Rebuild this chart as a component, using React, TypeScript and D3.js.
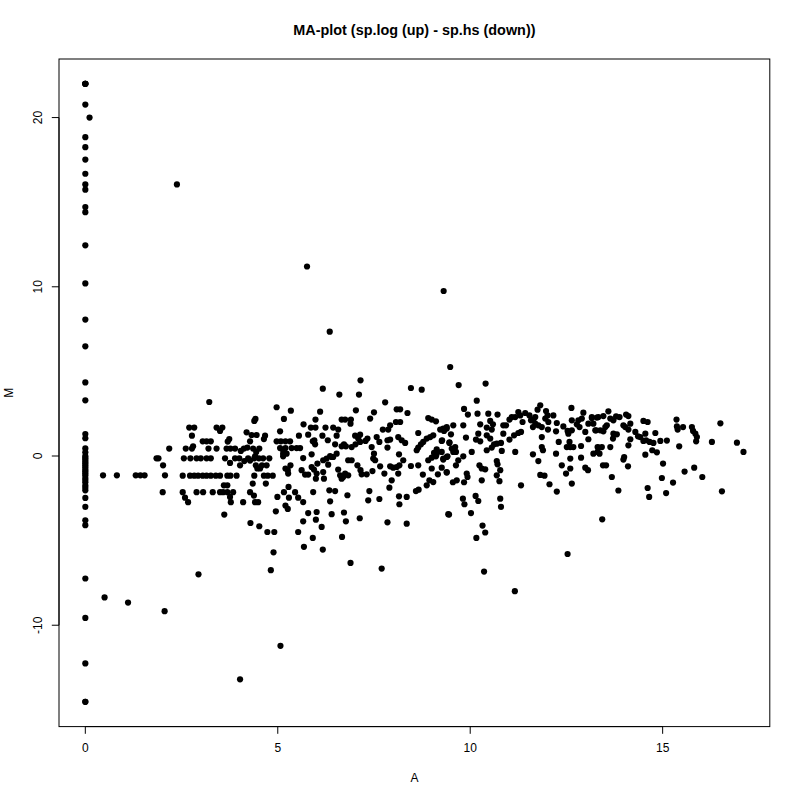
import React from "react";
import * as d3 from "d3";

// M values of the genes whose A is 0
const columnM: number[] = [
  22.0, 22.0, 22.0, 22.0, 20.77, 18.84, 18.25, 17.52, 16.68, 16.05, 15.74, 14.71, 14.41,
  12.45, 10.2, 8.06, 6.48, 4.35, 3.29, 1.3, 1.05, 0.45, 0.22, 0.0, -0.1, -0.2, -0.33, -0.43,
  -0.55, -0.67, -0.8, -0.9, -1.02, -1.14, -1.3, -1.42, -1.55, -1.75, -1.88, -2.03, -2.48,
  -3.01, -3.8, -4.09, -7.24, -9.57, -12.26, -14.53, -14.53,
];

// [A, M] pairs, low A and outliers
const lowPoints: [number, number][] = [
  [0.11, 20.0], [2.38, 16.05], [0.46, -1.14], [0.82, -1.14], [1.31, -1.14], [1.43, -1.14],
  [1.54, -1.14], [1.85, -0.14], [1.9, -0.14], [2.18, 0.44], [2.02, -0.55], [2.07, -1.14],
  [2.01, -2.14], [0.5, -8.36], [1.11, -8.66], [2.06, -9.17], [2.94, -6.99], [4.02, -13.2],
  [5.07, -11.22], [4.82, -6.75],
];

const outliers: [number, number][] = [
  [5.76, 11.2], [9.31, 9.75], [6.35, 7.35], [9.48, 5.26], [6.89, -6.32], [7.7, -6.65],
  [10.36, -6.83], [11.16, -7.99], [12.53, -5.79],
];

// A between 2 and 5.6
const bandA: [number, number][] = [
  [3.22, 3.19], [4.97, 2.88], [5.34, 2.68], [5.16, 2.19], [4.42, 2.19], [4.39, 2.07], [2.7, 1.68],
  [2.83, 1.68], [3.41, 1.68], [3.5, 1.48], [3.56, 1.68], [4.19, 1.4], [2.77, 1.2], [4.32, 1.24],
  [4.45, 1.24], [4.67, 1.2], [4.64, 1.0], [5.06, 1.46], [5.55, 1.2], [3.74, 1.0], [3.7, 0.85],
  [3.05, 0.87], [3.15, 0.87], [3.26, 0.87], [4.28, 0.87], [4.97, 0.87], [5.08, 0.87], [5.2, 0.87],
  [5.32, 0.87], [2.61, 0.44], [2.77, 0.44], [2.8, 0.57], [3.2, 0.44], [3.41, 0.44], [3.67, 0.44],
  [3.77, 0.44], [3.89, 0.44], [4.04, 0.3], [4.12, 0.44], [4.21, 0.5], [4.36, 0.44], [4.52, 0.44],
  [4.44, 0.24], [4.41, -0.02], [5.06, 0.47], [5.14, 0.34], [5.2, 0.47], [5.14, 0.14], [5.23, 0.14],
  [5.14, -0.02], [5.36, 0.47], [5.49, 0.47], [5.58, 0.47], [2.56, -0.14], [2.73, -0.14],
  [2.89, -0.14], [3.0, -0.14], [3.15, -0.14], [3.26, -0.14], [3.63, -0.14], [3.76, -0.41],
  [3.89, -0.14], [4.0, -0.14], [4.02, -0.55], [4.13, -0.3], [4.23, -0.14], [4.28, -0.27],
  [4.39, -0.14], [4.51, -0.14], [4.62, -0.14], [4.78, -0.14], [4.43, -0.55], [4.54, -0.74],
  [4.47, -0.74], [4.59, -0.55], [4.71, -0.55], [5.2, -0.74], [5.26, -0.84], [5.33, -0.55],
  [5.27, -1.04], [2.53, -1.16], [2.72, -1.16], [2.83, -1.16], [2.93, -1.16], [3.05, -1.16],
  [3.15, -1.16], [3.26, -1.16], [3.39, -1.16], [3.5, -1.16], [3.69, -1.16], [3.77, -1.16],
  [3.93, -1.16], [4.39, -1.16], [4.64, -1.16], [4.74, -1.16], [4.87, -1.16], [4.35, -1.63],
  [4.69, -1.63], [3.6, -1.73], [3.69, -1.73], [2.53, -2.14], [2.89, -2.14], [3.06, -2.14],
  [3.31, -2.14], [3.5, -2.14], [3.58, -2.14], [3.69, -2.14], [3.84, -2.14], [2.59, -2.46],
  [2.67, -2.73], [3.76, -2.42], [3.78, -2.73], [4.28, -2.14], [4.38, -2.34], [4.41, -2.73],
  [4.49, -2.73], [4.1, -2.73], [4.99, -2.42], [5.16, -2.14], [5.28, -1.83], [5.29, -2.46],
  [5.45, -2.14], [5.53, -2.46], [5.2, -2.93], [5.26, -3.13], [4.95, -3.27], [3.61, -3.46],
  [4.29, -3.96], [4.52, -4.15], [4.73, -4.49], [4.91, -4.49], [5.53, -4.49], [4.89, -5.69],
];

// A between 5.6 and 9.5
const bandB: [number, number][] = [
  [7.15, 4.47], [6.17, 3.98], [6.6, 3.63], [7.11, 3.63], [8.46, 4.02], [8.74, 3.92], [7.79, 3.17],
  [6.1, 2.62], [7.03, 2.7], [7.5, 2.58], [7.4, 2.21], [8.09, 2.76], [8.18, 2.76], [8.37, 2.54],
  [5.67, 1.87], [5.98, 2.15], [6.66, 2.15], [6.75, 2.15], [6.9, 2.15], [6.89, 1.91], [5.86, 1.68],
  [5.98, 1.68], [6.24, 1.68], [6.44, 1.68], [6.57, 1.56], [7.92, 1.81], [7.87, 1.56], [8.07, 2.01],
  [8.18, 2.01], [7.73, 1.56], [8.91, 2.24], [9.0, 2.15], [9.11, 2.05], [9.39, 1.62], [9.32, 1.48],
  [5.79, 1.26], [6.16, 1.2], [6.53, 1.2], [7.01, 1.2], [7.14, 1.26], [7.09, 1.03], [7.14, 0.83],
  [7.02, 0.69], [7.33, 1.03], [7.28, 0.89], [7.57, 1.12], [8.65, 1.36], [7.92, 0.97], [7.85, 0.93],
  [8.13, 1.12], [8.22, 0.93], [8.31, 0.77], [8.78, 0.83], [8.87, 1.03], [8.96, 1.12], [9.04, 1.22],
  [9.26, 0.89], [9.46, 0.77], [5.91, 0.87], [5.97, 0.69], [5.95, 0.93], [6.3, 0.93], [6.49, 0.69],
  [6.66, 0.57], [6.72, 0.69], [6.77, 0.57], [6.92, 0.53], [7.44, 0.53], [7.5, 0.14], [7.64, 0.83],
  [7.85, 0.5], [8.65, 0.5], [8.61, 0.34], [8.72, 0.69], [9.13, 0.4], [9.06, 0.18], [9.11, -0.02],
  [5.88, 0.1], [6.36, 0.0], [6.44, -0.06], [6.53, 0.14], [5.66, -0.12], [6.18, -0.25], [6.27, -0.15],
  [6.4, -0.06], [6.83, -0.25], [6.92, -0.25], [7.48, -0.15], [7.53, -0.25], [8.15, 0.1], [8.26, -0.25],
  [8.91, -0.25], [9.0, -0.1], [9.13, 0.14], [9.3, -0.15], [9.41, -0.02], [5.62, -0.84], [5.71, -1.1],
  [5.79, -1.1], [5.88, -0.65], [5.94, -0.8], [6.03, -0.45], [5.99, -1.34], [6.01, -1.04], [6.18, -0.95],
  [6.2, -1.34], [6.31, -0.51], [6.57, -0.8], [6.62, -1.14], [6.7, -1.24], [6.75, -1.04], [6.83, -1.14],
  [6.66, -1.34], [7.07, -0.55], [7.15, -0.84], [7.18, -1.08], [7.31, -1.08], [7.46, -0.89],
  [7.66, -0.61], [7.77, -1.04], [7.92, -0.61], [8.0, -0.69], [8.09, -0.65], [8.16, -0.55],
  [8.13, -1.04], [7.96, -1.44], [7.9, -1.87], [8.46, -0.59], [8.65, -0.55], [8.77, -1.1], [8.94, -1.44],
  [9.04, -1.54], [8.87, -1.73], [9.0, -0.74], [9.16, -1.08], [9.26, -0.69], [9.39, -0.95],
  [5.66, -2.72], [5.92, -2.13], [6.34, -2.03], [6.49, -2.07], [6.36, -2.68], [6.81, -2.32],
  [7.38, -2.07], [7.35, -2.62], [7.64, -2.54], [8.15, -2.38], [8.16, -2.85], [8.35, -2.42],
  [8.59, -2.07], [8.66, -1.99], [5.79, -3.37], [6.01, -3.31], [5.99, -3.76], [5.66, -3.86],
  [6.4, -3.44], [6.72, -3.34], [6.77, -3.86], [6.14, -4.19], [7.13, -3.68], [7.85, -3.92],
  [8.35, -4.0], [5.91, -4.84], [6.67, -4.78], [5.68, -5.37], [6.17, -5.53], [9.43, -3.44],
];

// A between 9.2 and 13.3
const bandC: [number, number][] = [
  [9.7, 4.19], [10.4, 4.28], [10.17, 3.27], [9.84, 2.78], [9.94, 2.45], [10.19, 2.5], [10.47, 2.5],
  [10.52, 2.07], [10.59, 1.87], [10.71, 2.45], [9.22, 1.56], [9.3, 1.62], [9.39, 1.71], [9.56, 1.81],
  [9.82, 1.81], [10.26, 1.87], [9.27, 0.93], [9.46, 0.81], [9.5, 1.28], [9.89, 1.09], [10.15, 0.97],
  [10.26, 0.87], [10.21, 1.32], [10.43, 1.22], [10.52, 1.03], [10.43, 1.68], [10.56, 1.56],
  [10.86, 1.81], [10.93, 1.81], [10.86, 1.32], [11.02, 2.15], [11.08, 2.3], [11.17, 2.3], [11.25, 2.6],
  [11.3, 2.4], [11.02, 0.97], [11.14, 1.22], [11.25, 1.36], [11.32, 1.42], [11.43, 2.54], [11.54, 2.4],
  [11.58, 2.11], [11.36, 2.01], [11.64, 2.15], [11.69, 2.3], [11.75, 2.74], [11.82, 3.0], [11.77, 1.81],
  [11.63, 1.71], [11.69, 1.91], [11.97, 2.66], [12.01, 2.4], [11.95, 2.21], [12.03, 2.01], [12.16, 2.4],
  [12.25, 1.95], [11.86, 1.71], [12.02, 1.56], [11.86, 1.12], [12.23, 1.46], [12.42, 1.75],
  [12.53, 1.48], [12.55, 1.32], [12.64, 1.52], [12.63, 2.84], [12.64, 2.11], [12.77, 1.87],
  [12.81, 2.11], [12.9, 2.21], [12.94, 2.56], [12.84, 1.71], [12.99, 1.42], [13.07, 1.91], [13.16, 2.3],
  [13.29, 2.27], [13.27, 1.52], [13.07, 0.99], [9.26, 0.24], [9.39, -0.06], [9.3, -0.21], [9.52, 0.44],
  [9.56, 0.24], [9.63, 0.24], [9.61, 0.53], [9.69, -0.25], [9.82, -0.02], [9.63, -0.55], [9.39, -0.98],
  [10.04, 0.24], [10.43, 0.34], [10.56, 0.5], [10.62, 0.69], [10.69, 0.73], [10.82, 0.3], [10.8, 0.77],
  [11.17, 0.24], [10.69, -0.3], [10.71, -0.49], [10.78, -0.84], [10.69, -1.14], [10.76, -1.49],
  [10.24, -0.55], [10.3, -0.74], [10.39, -0.79], [10.3, -1.44], [9.91, -1.04], [9.93, -1.24],
  [9.65, -1.44], [9.55, -1.55], [9.84, -1.55], [11.32, -1.73], [11.63, 0.1], [11.77, -0.3],
  [11.86, 0.53], [11.89, 0.34], [11.82, -1.12], [11.93, -1.16], [12.06, -1.67], [12.23, 0.14],
  [12.3, 0.83], [12.25, -2.1], [12.38, -0.55], [12.51, 0.53], [12.6, 0.53], [12.68, 0.53], [12.58, 0.83],
  [12.6, -0.15], [12.6, -0.74], [12.49, -1.04], [12.64, -1.63], [12.88, 0.59], [12.88, -0.1],
  [12.99, -0.69], [13.06, -0.84], [13.2, 0.14], [13.31, 0.24], [13.31, 0.53], [9.45, -3.46],
  [9.81, -2.52], [9.85, -2.85], [10.14, -2.36], [10.21, -2.66], [10.02, -3.37], [10.78, -2.52],
  [10.8, -3.01], [10.32, -4.11], [10.39, -4.52], [10.16, -4.84],
];

// A above 13.1
const bandD: [number, number][] = [
  [13.16, 2.24], [13.33, 2.3], [13.46, 2.36], [13.59, 2.64], [13.64, 2.21], [13.72, 2.11], [13.79, 2.34],
  [13.88, 2.3], [13.2, 1.91], [13.25, 1.52], [13.38, 1.52], [13.46, 1.46], [13.51, 1.71], [13.55, 1.81],
  [13.72, 1.32], [13.81, 1.28], [13.71, 1.03], [13.98, 1.81], [14.05, 2.45], [14.11, 2.36], [14.03, 1.71],
  [14.16, 1.91], [14.11, 1.56], [14.29, 1.42], [14.36, 1.16], [14.42, 1.12], [14.5, 2.07], [14.61, 2.01],
  [14.55, 1.32], [14.57, 0.93], [14.5, 0.89], [14.66, 0.83], [14.81, 1.36], [14.76, 0.77], [14.94, 0.89],
  [15.11, 0.91], [14.16, 0.99], [14.11, 0.63], [13.33, 0.5], [13.42, 0.53], [13.64, 0.53], [13.36, 0.14],
  [13.98, -0.21], [14.0, -0.06], [14.1, -0.61], [13.45, -0.55], [13.53, -0.55], [13.68, -1.24],
  [13.85, -2.04], [14.55, 0.08], [14.73, 0.34], [14.85, 0.22], [15.01, -0.45], [14.98, -1.3],
  [14.61, -1.89], [14.65, -2.42], [15.09, -2.19], [15.27, -1.57], [15.36, 2.15], [15.37, 1.75],
  [15.39, 1.56], [15.53, 1.71], [15.43, 0.57], [15.76, 1.71], [15.79, 1.48], [15.85, 1.32], [15.89, 1.12],
  [15.87, 0.87], [15.57, -0.92], [15.82, -0.69], [16.03, -1.24], [16.28, 0.83], [16.5, 1.93],
  [16.93, 0.79], [17.1, 0.24], [16.54, -2.09], [13.43, -3.74],
];

const xTicks = [0, 5, 10, 15];
const yTicks = [-10, 0, 10, 20];
const title = "MA-plot (sp.log (up) - sp.hs (down))";
const xLabel = "A";
const yLabel = "M";

const W = 800;
const H = 800;
const margin = { top: 59, right: 30.2, bottom: 73.4, left: 59 };
const FONT = "'Liberation Sans', Arial, Helvetica, sans-serif";

export default function App() {
  const points: [number, number][] = [
    ...columnM.map((m) => [0, m] as [number, number]),
    ...lowPoints,
    ...outliers,
    ...bandA,
    ...bandB,
    ...bandC,
    ...bandD,
  ];
  const [xmin, xmax] = d3.extent(points, (d) => d[0]) as [number, number];
  const [ymin, ymax] = d3.extent(points, (d) => d[1]) as [number, number];
  const px = (xmax - xmin) * 0.04;
  const py = (ymax - ymin) * 0.04;
  const x = d3.scaleLinear().domain([xmin - px, xmax + px]).range([margin.left, W - margin.right]);
  const y = d3.scaleLinear().domain([ymin - py, ymax + py]).range([H - margin.bottom, margin.top]);

  const left = margin.left;
  const right = W - margin.right;
  const top = margin.top;
  const bottom = H - margin.bottom;
  const tick = 7.2;

  return (
    <div style={{ position: "absolute", left: 0, top: 0 }}>
      <svg width={W} height={H} style={{ display: "block", background: "#fff" }}>
        <rect x={0} y={0} width={W} height={H} fill="#fff" />
        <text
          x={(left + right) / 2}
          y={35}
          textAnchor="middle"
          fontFamily={FONT}
          fontWeight="bold"
          fontSize={14.4}
        >
          {title}
        </text>
        {points.map((d, i) => (
          <circle key={i} cx={x(d[0])} cy={y(d[1])} r={3.1} fill="#000" />
        ))}
        <rect
          x={left}
          y={top}
          width={right - left}
          height={bottom - top}
          fill="none"
          stroke="#000"
          strokeWidth={1}
        />
        {/* x axis */}
        <line x1={x(xTicks[0])} x2={x(xTicks[xTicks.length - 1])} y1={bottom} y2={bottom} stroke="#000" />
        {xTicks.map((t) => (
          <g key={"x" + t}>
            <line x1={x(t)} x2={x(t)} y1={bottom} y2={bottom + tick} stroke="#000" />
            <text x={x(t)} y={752} textAnchor="middle" fontFamily={FONT} fontSize={12}>
              {t}
            </text>
          </g>
        ))}
        {/* y axis */}
        <line x1={left} x2={left} y1={y(yTicks[0])} y2={y(yTicks[yTicks.length - 1])} stroke="#000" />
        {yTicks.map((t) => (
          <g key={"y" + t}>
            <line x1={left} x2={left - tick} y1={y(t)} y2={y(t)} stroke="#000" />
            <text
              transform={`translate(42,${y(t)}) rotate(-90)`}
              textAnchor="middle"
              fontFamily={FONT}
              fontSize={12}
            >
              {t}
            </text>
          </g>
        ))}
        <text x={(left + right) / 2} y={782} textAnchor="middle" fontFamily={FONT} fontSize={12}>
          {xLabel}
        </text>
        <text
          transform={`translate(13,${(top + bottom) / 2}) rotate(-90)`}
          textAnchor="middle"
          fontFamily={FONT}
          fontSize={12}
        >
          {yLabel}
        </text>
      </svg>
    </div>
  );
}
